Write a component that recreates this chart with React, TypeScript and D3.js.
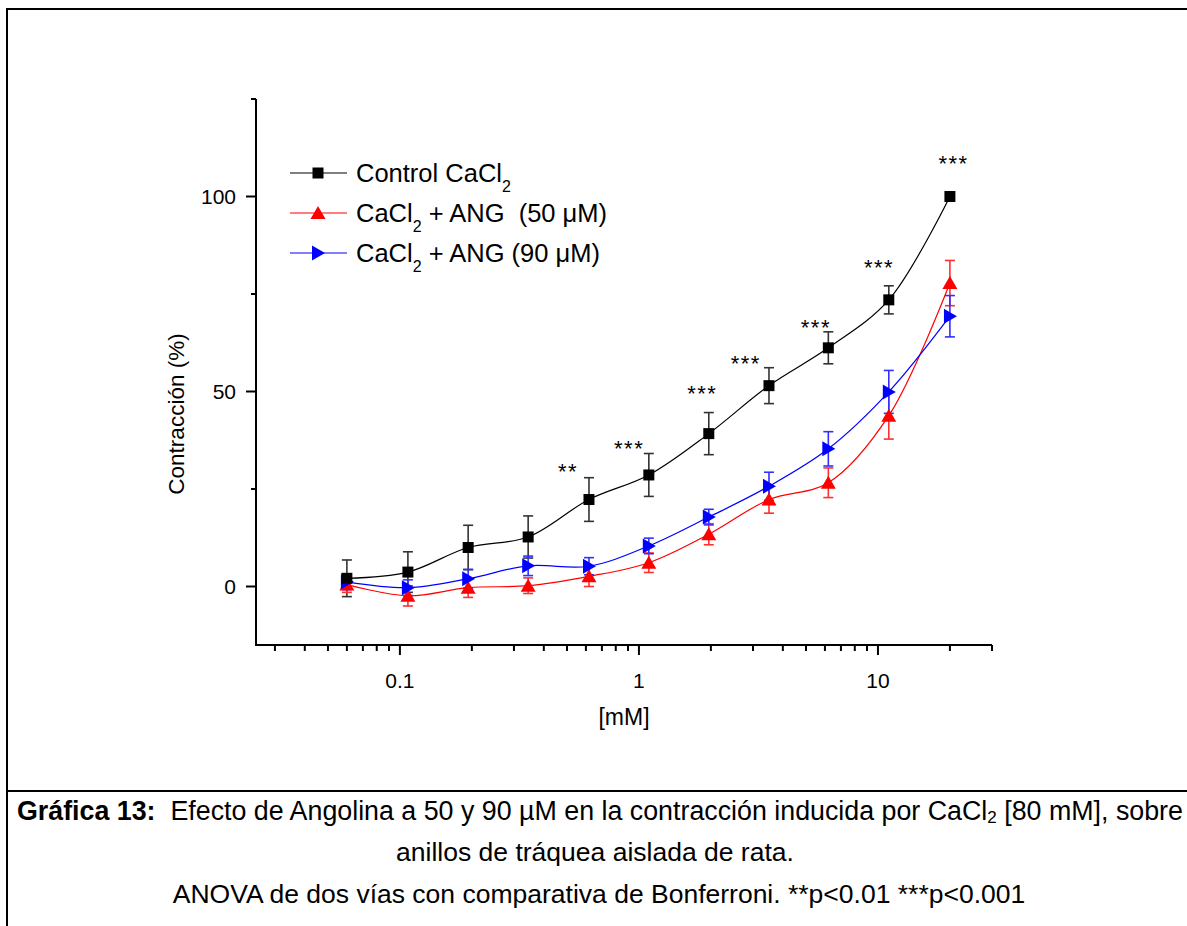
import React from "react";
import * as d3 from "d3";

// concentration (mM) and responses (%)
const conc = [0.06, 0.108, 0.193, 0.344, 0.618, 1.1, 1.96, 3.5, 6.2, 11.1, 20];
const control = [2.1, 3.7, 10.0, 12.7, 22.3, 28.6, 39.2, 51.5, 61.2, 73.5, 100];
const controlErr = [4.7, 5.2, 5.7, 5.4, 5.6, 5.5, 5.4, 4.6, 4.1, 3.6, 0];
const ang50 = [0.5, -2.4, -0.3, 0.2, 2.6, 6.1, 13.4, 22.3, 26.6, 43.8, 77.8];
const ang50Err = [2.0, 2.6, 2.5, 2.0, 2.6, 2.5, 2.7, 3.5, 3.8, 6.0, 5.8];
const ang90 = [1.2, -0.3, 2.0, 5.3, 5.2, 10.4, 17.8, 25.7, 35.3, 49.9, 69.3];
const ang90Err = [2.0, 2.0, 2.4, 2.5, 2.2, 2.0, 2.0, 3.6, 4.4, 5.5, 5.3];

const starLabels = ["**", "***", "***", "***", "***", "***", "***"];
const starX = [0.505, 0.91, 1.84, 2.8, 5.5, 10.1, 20.7];
const starY = [31.0, 36.7, 50.8, 58.7, 67.7, 83.3, 109.9];

const yMajor = [0, 50, 100];
const yMinor = [25, 75, 125];
const xMajor = [0.1, 1, 10];

const FONT = "'Liberation Sans', Arial, sans-serif";

const W = 1187;
const H = 926;
const x = d3.scaleLog().domain([0.025, 30]).range([256, 992]);
const y = d3.scaleLinear().domain([-15, 125]).range([645, 99]);

type Shape = "square" | "up" | "right";

function markerPath(shape: Shape, cx: number, cy: number) {
  if (shape === "square") return `M${cx - 5.5},${cy - 5.5}h11v11h-11Z`;
  if (shape === "up") return `M${cx},${cy - 7}L${cx + 7.5},${cy + 6}L${cx - 7.5},${cy + 6}Z`;
  return `M${cx - 6},${cy - 7.5}L${cx + 7},${cy}L${cx - 6},${cy + 7.5}Z`;
}

const series = [
  { name: "control", vals: control, err: controlErr, color: "#000000", errColor: "#333333", shape: "square" as Shape },
  { name: "ang50", vals: ang50, err: ang50Err, color: "#ff0000", errColor: "#ff3030", shape: "up" as Shape },
  { name: "ang90", vals: ang90, err: ang90Err, color: "#0000ff", errColor: "#3030ff", shape: "right" as Shape },
];

export default function App() {
  const line = d3
    .line<[number, number]>()
    .x((d) => x(d[0]))
    .y((d) => y(d[1]))
    .curve(d3.curveCatmullRom.alpha(0.5));

  const xMinor: number[] = [];
  [0.01, 0.1, 1, 10].forEach((dec) => {
    for (let k = 2; k <= 9; k++) {
      const v = dec * k;
      if (v >= 0.025 && v <= 30 && !xMajor.includes(v)) xMinor.push(v);
    }
  });

  const legendRows = [
    { s: series[0], label: ["Control CaCl", "2", ""], y: 173 },
    { s: series[1], label: ["CaCl", "2", " + ANG\u00A0\u00A0(50 \u03BCM)"], y: 213 },
    { s: series[2], label: ["CaCl", "2", " + ANG (90 \u03BCM)"], y: 253 },
  ];

  return (
    <svg
      width={W}
      height={H}
      style={{ position: "absolute", left: 0, top: 0, display: "block", background: "#fff" }}
      fontFamily={FONT}
    >
      <rect x={0} y={0} width={W} height={H} fill="#fff" />
      {/* frame */}
      <line x1={7} y1={9} x2={W} y2={9} stroke="#000" strokeWidth={2} />
      <line x1={7} y1={8} x2={7} y2={H} stroke="#000" strokeWidth={2} />
      <line x1={7} y1={791} x2={W} y2={791} stroke="#000" strokeWidth={2} />

      {/* axes */}
      <line x1={x.range()[0]} x2={x.range()[1]} y1={645} y2={645} stroke="#000" strokeWidth={2} />
      <line x1={256} x2={256} y1={y.range()[1]} y2={646} stroke="#000" strokeWidth={2} />
      {yMajor.map((v) => (
        <g key={"ym" + v}>
          <line x1={246} x2={256} y1={y(v)} y2={y(v)} stroke="#000" strokeWidth={2} />
          <text x={236} y={y(v) + 7} fontSize={21} textAnchor="end">{v}</text>
        </g>
      ))}
      {yMinor.map((v) => (
        <line key={"yn" + v} x1={251} x2={256} y1={y(v)} y2={y(v)} stroke="#000" strokeWidth={2} />
      ))}
      {xMajor.map((v) => (
        <g key={"xm" + v}>
          <line x1={x(v)} x2={x(v)} y1={645} y2={655} stroke="#000" strokeWidth={2} />
          <text x={x(v)} y={688} fontSize={21} textAnchor="middle">{String(v)}</text>
        </g>
      ))}
      {xMinor.map((v) => (
        <line key={"xn" + v} x1={x(v)} x2={x(v)} y1={645} y2={651} stroke="#000" strokeWidth={2} />
      ))}
      <text transform="translate(184,414) rotate(-90)" fontSize={22.5} textAnchor="middle">Contracción (%)</text>
      <text x={624} y={725} fontSize={23} textAnchor="middle">[mM]</text>

      {/* curves */}
      {series.map((s) => (
        <path
          key={"l" + s.name}
          d={line(conc.map((c, i) => [c, s.vals[i]] as [number, number])) || ""}
          fill="none"
          stroke={s.color}
          strokeWidth={1.2}
        />
      ))}
      {/* error bars */}
      {series.map((s) =>
        conc.map((c, i) =>
          s.err[i] > 0 ? (
            <g key={"e" + s.name + i} stroke={s.errColor} strokeWidth={1.6}>
              <line x1={x(c)} x2={x(c)} y1={y(s.vals[i] - s.err[i])} y2={y(s.vals[i] + s.err[i])} />
              <line x1={x(c) - 5} x2={x(c) + 5} y1={y(s.vals[i] + s.err[i])} y2={y(s.vals[i] + s.err[i])} />
              <line x1={x(c) - 5} x2={x(c) + 5} y1={y(s.vals[i] - s.err[i])} y2={y(s.vals[i] - s.err[i])} />
            </g>
          ) : null
        )
      )}
      {/* markers */}
      {[series[1], series[2], series[0]].map((s) =>
        conc.map((c, i) => (
          <path key={"m" + s.name + i} d={markerPath(s.shape, x(c), y(s.vals[i]))} fill={s.color} />
        ))
      )}

      {/* significance */}
      {starLabels.map((t, i) => (
        <text key={"s" + i} x={x(starX[i])} y={y(starY[i]) + 13} fontSize={22} textAnchor="middle" letterSpacing={1.5}>
          {t}
        </text>
      ))}

      {/* legend */}
      {legendRows.map((r) => (
        <g key={"lg" + r.s.name}>
          <line x1={290} x2={347} y1={r.y} y2={r.y} stroke={r.s.color} strokeWidth={1.2} />
          <path d={markerPath(r.s.shape, 318, r.y)} fill={r.s.color} />
          <text x={356} y={r.y + 9} fontSize={25.5}>
            {r.label[0]}
            <tspan fontSize={16} dy={10}>{r.label[1]}</tspan>
            {r.label[2] ? <tspan dy={-10}>{r.label[2]}</tspan> : null}
          </text>
        </g>
      ))}

      {/* caption */}
      <text x={17} y={820} fontSize={26.8}>
        <tspan fontWeight="bold">Gráfica 13:</tspan>
        <tspan>{"\u00A0 Efecto de Angolina a 50 y 90 µM en la contracción inducida por CaCl"}</tspan>
        <tspan fontSize={17} dy={3}>2</tspan>
        <tspan dy={-3}>{" [80 mM], sobre"}</tspan>
      </text>
      <text x={595} y={861} fontSize={26.5} textAnchor="middle">anillos de tráquea aislada de rata.</text>
      <text x={599} y={903} fontSize={26.5} textAnchor="middle">
        ANOVA de dos vías con comparativa de Bonferroni. **p&lt;0.01 ***p&lt;0.001
      </text>
    </svg>
  );
}
